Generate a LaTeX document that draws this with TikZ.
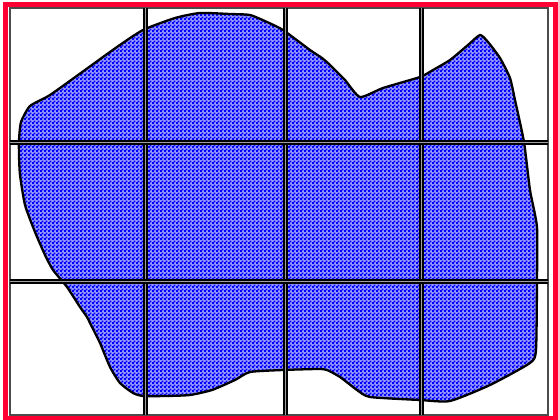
\documentclass[tikz,border=0pt]{standalone}
\usetikzlibrary{patterns}
\definecolor{framered}{RGB}{255,0,51}
\pgfdeclarepatternformonly{finechecker}{\pgfpointorigin}{\pgfqpoint{4pt}{4pt}}{\pgfqpoint{4pt}{4pt}}{%
  \pgfpathrectangle{\pgfpointorigin}{\pgfqpoint{2.3pt}{2.3pt}}%
  \pgfpathrectangle{\pgfqpoint{2pt}{2pt}}{\pgfqpoint{2.3pt}{2.3pt}}%
  \pgfusepath{fill}}
\tikzset{
  blobfill/.style={fill=blue!40},
  blob/.style={draw=black, line width=2.3pt, pattern=finechecker, pattern color=blue, line join=round},
  sepline/.style={draw=black, line width=2pt, double=gray!75, double distance=1pt},
  outerframe/.style={draw=black!70, line width=1.3pt},
  redframe/.style={draw=framered, line width=5.5pt}
}
\begin{document}
\begin{tikzpicture}[x=1pt,y=-1pt]
\useasboundingbox (0,0) rectangle (558,420);
\def\blobpath{plot[smooth cycle, tension=0.35] coordinates {
 (19,140) (21,122) (30,106) (50,95) (85,70) (117,47) (143,30) (175,18) (200,13)
 (230,14) (250,15) (267,22) (283,30) (310,50) (322,58) (330,65) (345,80) (360,97)
 (383,88) (420,77) (433,70) (450,60) (468,45) (480,35) (488,42) (500,58) (510,78)
 (515,100) (524,142) (530,190) (537,227) (537,280) (536,350) (530,363) (490,385)
 (450,401) (420,400) (370,397) (357,390) (340,377) (327,370) (318,369) (283,370)
 (250,372) (235,380) (212,390) (190,395) (167,396) (143,396) (133,393) (120,383)
 (110,367) (100,343) (90,323) (87,317) (80,307) (67,287) (53,270) (45,255)
 (35,232) (25,205) (20,175) (19,155)}}
% blob
\fill[blobfill] \blobpath;
\draw[blob] \blobpath;
% grid frame
\draw[outerframe] (10,8) rectangle (548,415);
% separators
\draw[sepline] (145.5,8) -- (145.5,415);
\draw[sepline] (285,8) -- (285,415);
\draw[sepline] (421,8) -- (421,415);
\draw[sepline] (10,142.5) -- (548,142.5);
\draw[sepline] (10,281.5) -- (548,281.5);
% red frame
\draw[redframe] (5.5,4.5) rectangle (555.5,418.5);
\end{tikzpicture}
\end{document}
